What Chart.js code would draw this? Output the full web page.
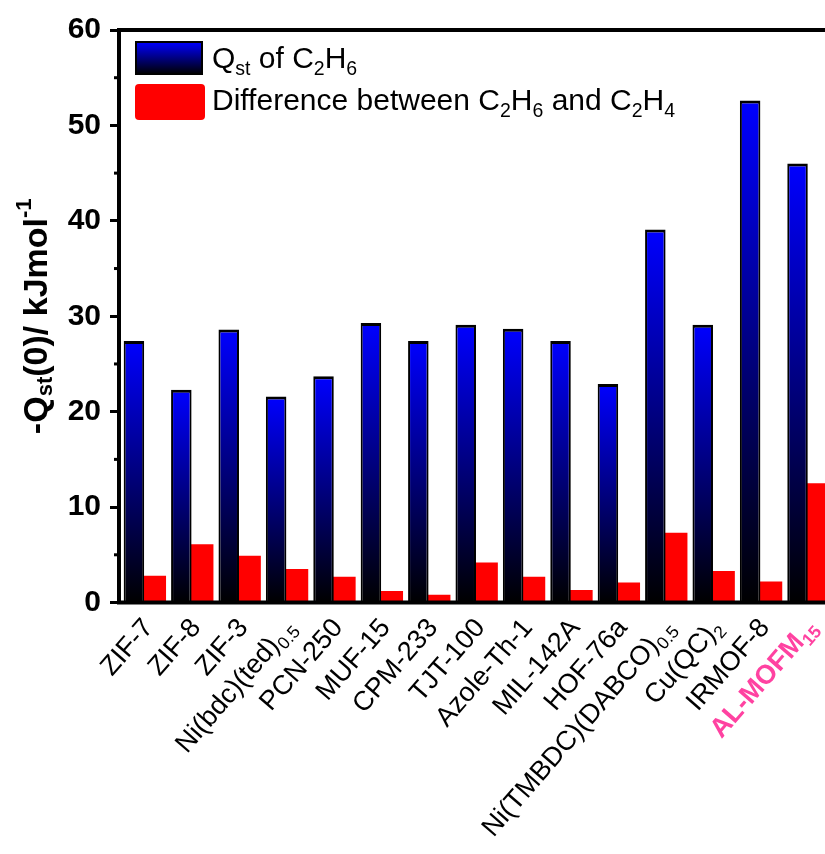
<!DOCTYPE html>
<html>
<head>
<meta charset="utf-8">
<script src="https://cdn.jsdelivr.net/npm/chart.js@4.4.1/dist/chart.umd.min.js"></script>
<style>
html, body { margin: 0; padding: 0; background: #fff; overflow: hidden; }
canvas { display: block; }
</style>
</head>
<body>
<canvas id="myChart" width="840" height="854"></canvas>
<script>
// categories: main text + subscript part
const materials = ['ZIF-7', 'ZIF-8', 'ZIF-3', 'Ni(bdc)(ted)', 'PCN-250', 'MUF-15', 'CPM-233', 'TJT-100',
    'Azole-Th-1', 'MIL-142A', 'HOF-76a', 'Ni(TMBDC)(DABCO)', 'Cu(QC)', 'IRMOF-8', 'AL-MOFM'];
const materialSubs = ['', '', '', '0.5', '', '', '', '', '', '', '', '0.5', '2', '', '15'];
// Qst of C2H6 (kJ/mol)
const qstEthane = [27.4, 22.3, 28.6, 21.6, 23.7, 29.3, 27.4, 29.1, 28.7, 27.4, 22.9, 39.1, 29.1, 52.6, 46.0];
// difference between C2H6 and C2H4
const qstDifference = [2.8, 6.1, 4.9, 3.5, 2.7, 1.2, 0.8, 4.2, 2.7, 1.3, 2.1, 7.3, 3.3, 2.2, 12.5];
const yTicks = [0, 10, 20, 30, 40, 50, 60];
const yMinorTicks = [5, 15, 25, 35, 45, 55];

const FONT = '"Liberation Sans", Arial, sans-serif';

// draw a list of [text, kind] pieces; kind '' | 'sub' | 'sup'
function pieceWidth(ctx, parts, size, weight) {
    let w = 0;
    parts.forEach(function (p) {
        const s = p[1] ? size * 0.65 : size;
        ctx.font = weight + ' ' + s + 'px ' + FONT;
        w += ctx.measureText(p[0]).width;
    });
    return w;
}
function drawPieces(ctx, parts, x, y, size, weight) {
    parts.forEach(function (p) {
        const s = p[1] ? size * 0.65 : size;
        ctx.font = weight + ' ' + s + 'px ' + FONT;
        let dy = 0;
        if (p[1] === 'sub') dy = size * 0.22;
        if (p[1] === 'sup') dy = -size * 0.38;
        ctx.fillText(p[0], x, y + dy);
        x += ctx.measureText(p[0]).width;
    });
}

function blueGradient(context) {
    const chart = context.chart;
    const area = chart.chartArea;
    if (!area || context.raw === undefined) return '#0000ff';
    const top = chart.scales.y.getPixelForValue(context.raw);
    const g = chart.ctx.createLinearGradient(0, top, 0, area.bottom);
    g.addColorStop(0, '#0000ff');
    g.addColorStop(1, '#000000');
    return g;
}

const decorations = {
    id: 'decorations',
    afterDraw: function (chart) {
        const ctx = chart.ctx;
        const area = chart.chartArea;
        const x = chart.scales.x;
        const y = chart.scales.y;
        ctx.save();

        // frame
        ctx.strokeStyle = '#000';
        ctx.lineWidth = 4;
        ctx.strokeRect(area.left, area.top, area.right - area.left, area.bottom - area.top);

        // minor ticks
        ctx.lineWidth = 3;
        yMinorTicks.forEach(function (v) {
            const py = y.getPixelForValue(v);
            ctx.beginPath();
            ctx.moveTo(area.left - 5, py);
            ctx.lineTo(area.left, py);
            ctx.stroke();
        });

        // y title
        ctx.fillStyle = '#000';
        ctx.textBaseline = 'middle';
        ctx.textAlign = 'left';
        const title = [['-Q', ''], ['st', 'sub'], ['(0)/ kJmol', ''], ['-1', 'sup']];
        const tw = pieceWidth(ctx, title, 34, 'bold');
        ctx.save();
        ctx.translate(38, (area.top + area.bottom) / 2);
        ctx.rotate(-Math.PI / 2);
        drawPieces(ctx, title, -tw / 2, 0, 34, 'bold');
        ctx.restore();

        // x labels, rotated
        ctx.textBaseline = 'alphabetic';
        const fs = 27;
        materials.forEach(function (name, i) {
            const last = i === materials.length - 1;
            const weight = last ? 'bold' : 'normal';
            const parts = [[name, '']];
            if (materialSubs[i]) parts.push([materialSubs[i], 'sub']);
            const w = pieceWidth(ctx, parts, fs, weight);
            ctx.fillStyle = last ? '#ff42a1' : '#000';
            ctx.save();
            ctx.translate(x.getPixelForValue(i) - 3, area.bottom + 13);
            ctx.rotate(-49 * Math.PI / 180);
            drawPieces(ctx, parts, -w, fs * 0.72, fs, weight);
            ctx.restore();
        });

        // legend
        const lx = area.left + 17;
        const ly = area.top + 12;
        const g = ctx.createLinearGradient(0, ly, 0, ly + 32);
        g.addColorStop(0, '#0000ff');
        g.addColorStop(1, '#000000');
        ctx.fillStyle = g;
        ctx.fillRect(lx, ly, 66, 32);
        ctx.lineWidth = 2;
        ctx.strokeRect(lx, ly, 66, 32);
        ctx.fillStyle = '#ff0000';
        ctx.beginPath();
        ctx.roundRect(lx - 1, ly + 42, 70, 36, 4);
        ctx.fill();

        ctx.fillStyle = '#000';
        ctx.textBaseline = 'alphabetic';
        drawPieces(ctx, [['Q', ''], ['st', 'sub'], [' of C', ''], ['2', 'sub'], ['H', ''], ['6', 'sub']],
            lx + 76, ly + 26, 30, 'normal');
        drawPieces(ctx, [['Difference between C', ''], ['2', 'sub'], ['H', ''], ['6', 'sub'],
            [' and C', ''], ['2', 'sub'], ['H', ''], ['4', 'sub']], lx + 76, ly + 68, 30, 'normal');

        ctx.restore();
    }
};

const ctx = document.getElementById('myChart').getContext('2d');
const myChart = new Chart(ctx, {
    type: 'bar',
    data: {
        labels: materials,
        datasets: [{
            label: 'Qst of C2H6',
            data: qstEthane,
            backgroundColor: blueGradient,
            borderColor: '#000000',
            borderWidth: { top: 3, left: 2, right: 2, bottom: 0 },
            borderSkipped: 'bottom',
            categoryPercentage: 0.74,
            barPercentage: 1.17
        }, {
            label: 'Difference between C2H6 and C2H4',
            data: qstDifference,
            backgroundColor: '#ff0000',
            borderWidth: 0,
            categoryPercentage: 1.0,
            barPercentage: 0.97
        }]
    },
    options: {
        responsive: false,
        animation: false,
        layout: { padding: { top: 30, right: 10, left: 0, bottom: 0 } },
        plugins: {
            legend: { display: false },
            tooltip: { enabled: false }
        },
        scales: {
            x: {
                ticks: { display: false },
                grid: { display: false },
                border: { display: false },
                afterFit: function (scale) { scale.height = 251.5; }
            },
            y: {
                min: 0,
                max: 60,
                afterBuildTicks: function (scale) {
                    scale.ticks = yTicks.map(function (v) { return { value: v }; });
                },
                ticks: {
                    color: '#000',
                    padding: 9,
                    font: { family: FONT, size: 30, weight: 'bold' }
                },
                grid: {
                    drawOnChartArea: false,
                    tickLength: 9,
                    tickWidth: 3,
                    tickColor: '#000'
                },
                border: { display: false },
                afterFit: function (scale) { scale.width = 119; }
            }
        }
    },
    plugins: [decorations]
});
</script>
</body>
</html>
